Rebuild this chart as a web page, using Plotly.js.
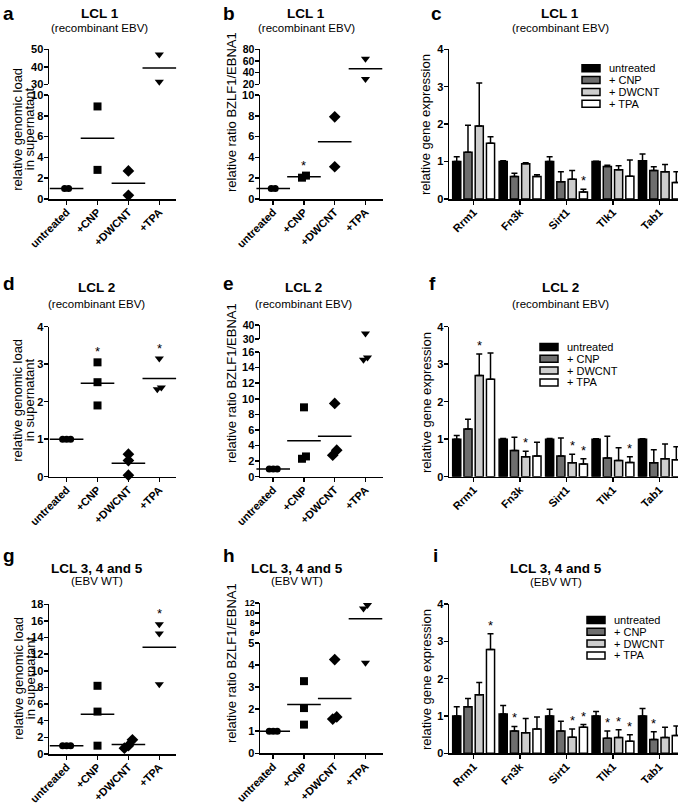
<!DOCTYPE html>
<html>
<head>
<meta charset="utf-8">
<script src="https://cdn.plot.ly/plotly-3.0.1.min.js"></script>
<style>
  html, body { margin: 0; padding: 0; background: #fff; }
  #plot { width: 685px; height: 804px; }
</style>
</head>
<body>
<div id="plot"></div>
<script>
var treatments = ['untreated', '+CNP', '+DWCNT', '+TPA'];
var genes = ['Rrm1', 'Fn3k', 'Sirt1', 'Tlk1', 'Tab1'];
var legendNames = ['untreated', '+ CNP', '+ DWCNT', '+ TPA'];

// a: LCL 1, relative genomic load in supernatant
var aUntreated = [1, 1];
var aCnp = [8.9, 2.8];
var aDwcnt = [2.7, 0.35];
var aTpa = [47, 31.5];
var aSig = [0, 0, 0, 0];

// b: LCL 1, relative ratio BZLF1/EBNA1
var bUntreated = [1, 1];
var bCnp = [2.05, 2.25];
var bDwcnt = [7.9, 3.1];
var bTpa = [64, 29];
var bSig = [0, 1, 0, 0];

// d: LCL 2, genomic load
var dUntreated = [1, 1, 1];
var dCnp = [3.05, 2.52, 1.9];
var dDwcnt = [0.6, 0.43, 0.04];
var dTpa = [3.15, 2.38, 2.33];
var dSig = [0, 1, 0, 1];

// e: LCL 2, BZLF1/EBNA1
var eUntreated = [1, 1, 1];
var eCnp = [8.9, 2.3, 2.6];
var eDwcnt = [9.4, 2.75, 3.4];
var eTpa = [34, 15.0, 15.3];
var eSig = [0, 0, 0, 0];

// g: LCL 3, 4 and 5, genomic load
var gUntreated = [1, 1, 1];
var gCnp = [8.2, 5.1, 1.0];
var gDwcnt = [1.7, 1.0, 0.7];
var gTpa = [15.6, 14.5, 8.4];
var gSig = [0, 0, 0, 1];

// h: LCL 3, 4 and 5, BZLF1/EBNA1
var hUntreated = [1, 1, 1];
var hCnp = [3.27, 2.05, 1.3];
var hDwcnt = [4.25, 1.55, 1.65];
var hTpa = [11.6, 10.9, 4.1];
var hSig = [0, 0, 0, 0];

// c: LCL 1 gene expression (mean, upper SD)
var cUntreated = [1.0, 1.0, 1.0, 1.0, 1.02];
var cCnp = [1.25, 0.6, 0.46, 0.87, 0.76];
var cDwcnt = [1.95, 0.94, 0.53, 0.78, 0.73];
var cTpa = [1.49, 0.6, 0.19, 0.61, 0.44];
var cUntreatedSd = [0.13, 0.02, 0.13, 0.01, 0.18];
var cCnpSd = [0.72, 0.09, 0.27, 0.03, 0.1];
var cDwcntSd = [1.15, 0.03, 0.23, 0.11, 0.19];
var cTpaSd = [0.17, 0.05, 0.07, 0.43, 0.29];
var cSig = [[0, 0, 0, 0, 0], [0, 0, 0, 0, 0], [0, 0, 0, 0, 0], [0, 0, 1, 0, 0]];

// f: LCL 2 gene expression
var fUntreated = [1.0, 1.0, 1.0, 1.0, 1.0];
var fCnp = [1.27, 0.7, 0.55, 0.5, 0.37];
var fDwcnt = [2.7, 0.53, 0.37, 0.43, 0.48];
var fTpa = [2.6, 0.55, 0.34, 0.38, 0.45];
var fUntreatedSd = [0.1, 0.02, 0.02, 0.01, 0.01];
var fCnpSd = [0.26, 0.35, 0.48, 0.58, 0.35];
var fDwcntSd = [0.57, 0.15, 0.23, 0.34, 0.39];
var fTpaSd = [0.7, 0.37, 0.14, 0.15, 0.35];
var fSig = [[0, 0, 0, 0, 0], [0, 0, 0, 0, 0], [1, 1, 1, 0, 0], [0, 0, 1, 1, 0]];

// i: LCL 3, 4 and 5 gene expression
var iUntreated = [1.0, 1.05, 1.0, 1.0, 1.0];
var iCnp = [1.25, 0.6, 0.6, 0.4, 0.37];
var iDwcnt = [1.57, 0.55, 0.43, 0.42, 0.42];
var iTpa = [2.78, 0.65, 0.7, 0.32, 0.48];
var iUntreatedSd = [0.25, 0.23, 0.18, 0.12, 0.2];
var iCnpSd = [0.22, 0.12, 0.26, 0.2, 0.21];
var iDwcntSd = [0.33, 0.38, 0.22, 0.21, 0.28];
var iTpaSd = [0.42, 0.32, 0.07, 0.18, 0.25];
var iSig = [[0, 0, 0, 0, 0], [0, 1, 0, 1, 1], [0, 0, 1, 1, 0], [1, 0, 1, 1, 0]];

var W = 685, H = 804;
var FONT = 'Liberation Sans, Arial, Helvetica, sans-serif';
var BLACK = '#000000';
var barColors = ['#000000', '#6e6e6e', '#cdcdcd', '#ffffff'];
var symbols = ['circle', 'square', 'diamond', 'triangle-down'];
var symbolSizes = [7, 8, 9, 8];

var data = [];
var annotations = [];
var shapes = [];
var layout = {
  width: W, height: H,
  margin: {l: 0, r: 0, t: 0, b: 0},
  paper_bgcolor: '#ffffff', plot_bgcolor: 'rgba(0,0,0,0)',
  showlegend: false, hovermode: false,
  barmode: 'group', bargap: 0.03, bargroupgap: 0.28,
  font: {family: FONT, color: BLACK}
};

var nx = 0, ny = 0;
function axName(letter, n) { return n === 1 ? letter : letter + n; }
function axKey(letter, n) { return letter + 'axis' + (n === 1 ? '' : n); }
function fy(p) { return 1 - p / H; }
function mean(arr) { return arr.reduce(function (s, v) { return s + v; }, 0) / arr.length; }

function axisStyle(extra, fontSize) {
  var a = {
    showline: true, linecolor: BLACK, linewidth: 1.5,
    ticks: 'outside', ticklen: 4, tickwidth: 1.5, tickcolor: BLACK,
    showgrid: false, zeroline: false, fixedrange: true,
    ticklabelstandoff: -2,
    tickfont: {family: FONT, size: fontSize || 11, weight: 'bold', color: BLACK}
  };
  for (var k in extra) a[k] = extra[k];
  return a;
}

// dot plot with optional broken y axis (segments listed bottom first)
function scatterPanel(groups, sig, box, segs) {
  var xn = ++nx, xs = axName('x', xn);
  var yIds = segs.map(function () { return ++ny; });
  layout[axKey('x', xn)] = axisStyle({
    domain: [box.x0 / W, box.x1 / W], range: box.xr, type: 'linear',
    tickvals: [0, 1, 2, 3], ticktext: treatments, tickangle: -45,
    ticklabelstandoff: -3, anchor: axName('y', yIds[0])
  });
  segs.forEach(function (s, si) {
    layout[axKey('y', yIds[si])] = axisStyle({
      domain: [fy(s.bottom), fy(s.top)], range: s.range,
      tick0: s.range[0], dtick: s.dtick, anchor: xs
    }, s.font);
  });

  function segOf(v) {
    for (var i = 0; i < segs.length; i++) {
      if (v >= segs[i].range[0] - 1e-9 && v <= segs[i].range[1] + 1e-9) return i;
    }
    return -1;
  }
  function pixOf(v) {
    var s = segs[segOf(v)];
    if (!s) return -1000;
    return s.bottom - (v - s.range[0]) / (s.range[1] - s.range[0]) * (s.bottom - s.top);
  }
  // put points that would overlap side by side
  function spread(vals) {
    var off = vals.map(function () { return 0; });
    var idx = vals.map(function (v, i) { return i; }).sort(function (p, q) { return pixOf(vals[q]) - pixOf(vals[p]); });
    var clusters = [], cur = [idx[0]];
    for (var k = 1; k < idx.length; k++) {
      if (Math.abs(pixOf(vals[idx[k]]) - pixOf(vals[idx[k - 1]])) < 6) cur.push(idx[k]);
      else { clusters.push(cur); cur = [idx[k]]; }
    }
    clusters.push(cur);
    clusters.forEach(function (c) {
      c.forEach(function (i, j) { off[i] = (j - (c.length - 1) / 2) * 0.13; });
    });
    return off;
  }

  var means = groups.map(mean);
  segs.forEach(function (s, si) {
    data.push({
      type: 'scatter', mode: 'markers', xaxis: xs, yaxis: axName('y', yIds[si]),
      cliponaxis: false, x: [0, 1, 2, 3],
      y: means.map(function (m) { return segOf(m) === si ? m : null; }),
      marker: {symbol: 'line-ew', size: 24, color: BLACK, line: {width: 1.5, color: BLACK}}
    });
  });

  groups.forEach(function (vals, g) {
    var off = spread(vals);
    segs.forEach(function (s, si) {
      data.push({
        type: 'scatter', mode: 'markers', xaxis: xs, yaxis: axName('y', yIds[si]),
        cliponaxis: false,
        x: vals.map(function (v, i) { return g + off[i]; }),
        y: vals.map(function (v) { return segOf(v) === si ? v : null; }),
        marker: {symbol: symbols[g], size: symbolSizes[g], color: BLACK}
      });
    });
    if (sig[g]) {
      var top = Math.max.apply(null, vals);
      annotations.push({
        xref: xs, yref: axName('y', yIds[segOf(top)]), x: g, y: top,
        text: '*', showarrow: false, yanchor: 'bottom', yshift: 1,
        font: {family: FONT, size: 13, color: BLACK}
      });
    }
  });
}

// grouped bars with upper error bars
function barPanel(series, errs, sig, box, seg) {
  var xn = ++nx, yn = ++ny, xs = axName('x', xn), ys = axName('y', yn);
  layout[axKey('x', xn)] = axisStyle({
    domain: [box.x0 / W, box.x1 / W], type: 'category', categoryarray: genes,
    range: box.xr, tickangle: -45, ticklabelstandoff: -3, anchor: ys
  });
  layout[axKey('y', yn)] = axisStyle({
    domain: [fy(seg.bottom), fy(seg.top)], range: seg.range,
    tick0: 0, dtick: seg.dtick, anchor: xs
  });
  var slot = (1 - layout.bargap) / series.length;
  series.forEach(function (vals, k) {
    data.push({
      type: 'bar', x: genes, y: vals, xaxis: xs, yaxis: ys, name: legendNames[k],
      cliponaxis: false,
      marker: {color: barColors[k], line: {color: BLACK, width: 1.5}},
      error_y: {
        type: 'data', symmetric: false, array: errs[k],
        arrayminus: vals.map(function () { return 0; }),
        color: BLACK, thickness: 1.5, width: 3
      }
    });
    sig[k].forEach(function (flag, gi) {
      if (!flag) return;
      annotations.push({
        xref: xs, yref: ys, x: gi + (k - (series.length - 1) / 2) * slot,
        y: vals[gi] + errs[k][gi], text: '*', showarrow: false,
        yanchor: 'bottom', yshift: -1,
        font: {family: FONT, size: 13, color: BLACK}
      });
    });
  });
  barLegend(box.lx, box.ly);
}

function barLegend(x, y) {
  legendNames.forEach(function (n, k) {
    var cy = y + k * 11.8;
    shapes.push({
      type: 'rect', xref: 'paper', yref: 'paper',
      x0: x / W, x1: (x + 18) / W, y0: fy(cy + 3.5), y1: fy(cy - 3.5),
      fillcolor: barColors[k], line: {color: BLACK, width: 1.5}
    });
    annotations.push({
      xref: 'paper', yref: 'paper', x: (x + 25) / W, y: fy(cy),
      xanchor: 'left', yanchor: 'middle', text: n, showarrow: false,
      font: {family: FONT, size: 11, color: BLACK}
    });
  });
}

function header(letter, lx, ly, title, sub, cx, ty, sy) {
  annotations.push({
    xref: 'paper', yref: 'paper', x: lx / W, y: fy(ly), xanchor: 'left', yanchor: 'top',
    text: '<b>' + letter + '</b>', showarrow: false, font: {family: FONT, size: 19, color: BLACK}
  });
  annotations.push({
    xref: 'paper', yref: 'paper', x: cx / W, y: fy(ty), xanchor: 'center', yanchor: 'middle',
    text: '<b>' + title + '</b>', showarrow: false, font: {family: FONT, size: 13.5, color: BLACK}
  });
  annotations.push({
    xref: 'paper', yref: 'paper', x: cx / W, y: fy(sy), xanchor: 'center', yanchor: 'middle',
    text: sub, showarrow: false, font: {family: FONT, size: 11.5, color: BLACK}
  });
}

function yTitle(lines, cx, cy) {
  lines.forEach(function (t, i) {
    annotations.push({
      xref: 'paper', yref: 'paper', x: (cx + (i - (lines.length - 1) / 2) * 12.5) / W, y: fy(cy),
      xanchor: 'center', yanchor: 'middle', textangle: -90, text: t, showarrow: false,
      font: {family: FONT, size: 13, color: BLACK}
    });
  });
}

var leftBox = {x0: 49, x1: 176, xr: [-0.57, 3.54]};
var midBox = {x0: 260, x1: 383, xr: [-0.43, 3.57]};
var loadTitle = ['relative genomic load', 'in supernatant'];
var ratioTitle = ['relative ratio BZLF1/EBNA1'];
var exprTitle = ['relative gene expression'];

// row 1
scatterPanel([aUntreated, aCnp, aDwcnt, aTpa], aSig, leftBox,
  [{bottom: 199, top: 95, range: [0, 10], dtick: 2}, {bottom: 84.3, top: 49.3, range: [30, 50], dtick: 10}]);
scatterPanel([bUntreated, bCnp, bDwcnt, bTpa], bSig, midBox,
  [{bottom: 199, top: 95, range: [0, 10], dtick: 2}, {bottom: 84.3, top: 49.3, range: [20, 80], dtick: 20, font: 10.5}]);
barPanel([cUntreated, cCnp, cDwcnt, cTpa], [cUntreatedSd, cCnpSd, cDwcntSd, cTpaSd], cSig,
  {x0: 449, x1: 678, xr: [-0.53, 4.40], lx: 582, ly: 68.3}, {bottom: 199, top: 49.3, range: [0, 4], dtick: 1});
header('a', 1, 1, 'LCL 1', '(recombinant EBV)', 100, 14, 28);
header('b', 221, 1, 'LCL 1', '(recombinant EBV)', 306, 14, 28);
header('c', 429, 1, 'LCL 1', '(recombinant EBV)', 560, 14, 28);
yTitle(loadTitle, 24, 129);
yTitle(ratioTitle, 231, 112);
yTitle(exprTitle, 426, 124);

// row 2
scatterPanel([dUntreated, dCnp, dDwcnt, dTpa], dSig, leftBox,
  [{bottom: 476.7, top: 326.7, range: [0, 4], dtick: 1}]);
scatterPanel([eUntreated, eCnp, eDwcnt, eTpa], eSig, midBox,
  [{bottom: 476.7, top: 352, range: [0, 16], dtick: 2}, {bottom: 339, top: 325, range: [30, 40], dtick: 10, font: 10.5}]);
barPanel([fUntreated, fCnp, fDwcnt, fTpa], [fUntreatedSd, fCnpSd, fDwcntSd, fTpaSd], fSig,
  {x0: 449, x1: 678, xr: [-0.53, 4.40], lx: 540, ly: 347}, {bottom: 476.7, top: 326.7, range: [0, 4], dtick: 1});
header('d', 1, 271, 'LCL 2', '(recombinant EBV)', 96, 288, 304);
header('e', 221, 271, 'LCL 2', '(recombinant EBV)', 303, 288, 304);
header('f', 427, 271, 'LCL 2', '(recombinant EBV)', 560, 288, 304);
yTitle(loadTitle, 24, 400);
yTitle(ratioTitle, 231, 383);
yTitle(exprTitle, 426, 402);

// row 3
scatterPanel([gUntreated, gCnp, gDwcnt, gTpa], gSig, leftBox,
  [{bottom: 754, top: 604.3, range: [0, 18], dtick: 2}]);
scatterPanel([hUntreated, hCnp, hDwcnt, hTpa], hSig, midBox,
  [{bottom: 753.3, top: 643, range: [0, 5], dtick: 1}, {bottom: 633, top: 603, range: [6, 12], dtick: 2, font: 9}]);
barPanel([iUntreated, iCnp, iDwcnt, iTpa], [iUntreatedSd, iCnpSd, iDwcntSd, iTpaSd], iSig,
  {x0: 449, x1: 678, xr: [-0.53, 4.40], lx: 587, ly: 620}, {bottom: 753.3, top: 604, range: [0, 4], dtick: 1});
header('g', 1, 543, 'LCL 3, 4 and 5', '(EBV WT)', 97, 568, 581);
header('h', 221, 543, 'LCL 3, 4 and 5', '(EBV WT)', 297, 568, 581);
header('i', 431, 543, 'LCL 3, 4 and 5', '(EBV WT)', 556, 568, 582);
yTitle(loadTitle, 24, 678);
yTitle(ratioTitle, 231, 663);
yTitle(exprTitle, 426, 679);

layout.annotations = annotations;
layout.shapes = shapes;

Plotly.newPlot('plot', data, layout, {displayModeBar: false, staticPlot: true});
</script>
</body>
</html>
